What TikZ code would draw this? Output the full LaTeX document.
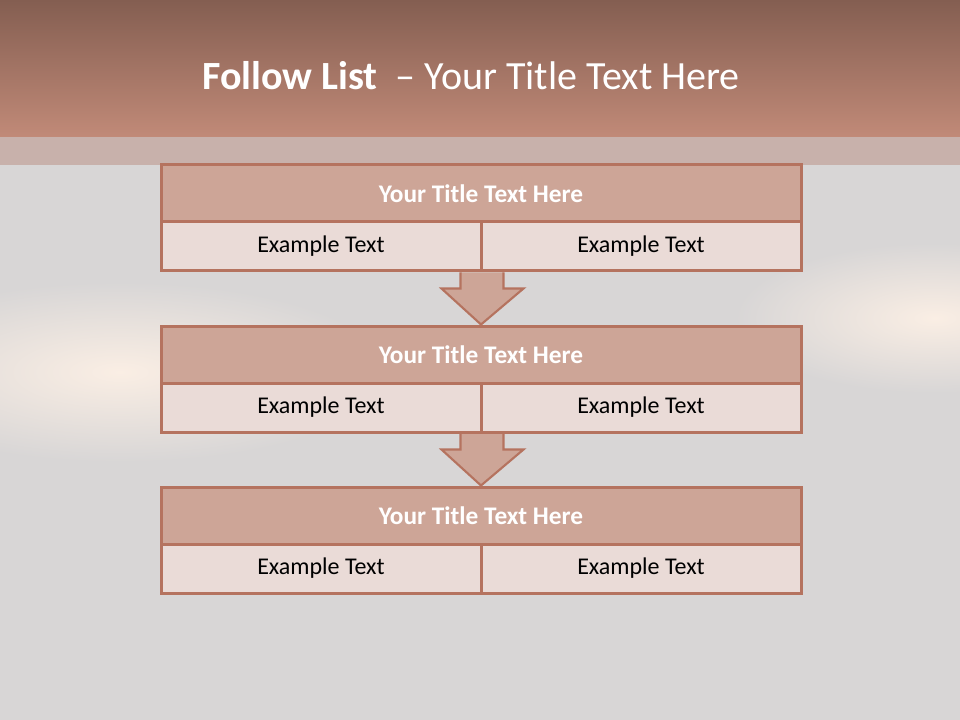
\documentclass[tikz,border=0pt]{standalone}
\usepackage{fontspec}
\setmainfont{Carlito}
\usetikzlibrary{calc,backgrounds}
\definecolor{followBarTop}{HTML}{845E51}
\definecolor{followBarLow}{HTML}{C18A78}
\definecolor{followBand}{HTML}{C8B1AB}
\definecolor{followBg}{HTML}{D8D6D6}
\definecolor{followGlow}{HTML}{FAEEE4}
\definecolor{followHead}{HTML}{CDA597}
\definecolor{followCell}{HTML}{EADBD7}
\definecolor{followEdge}{HTML}{B5735F}

\begin{document}
\begin{tikzpicture}[x=0.75pt,y=-0.75pt,
    headbox/.style={draw=followEdge,fill=followHead,line width=2.25pt,inner sep=0pt,
      minimum width=480pt,minimum height=42.75pt,text=white,
      font=\fontsize{19}{23}\selectfont\bfseries},
    cellbox/.style={draw=followEdge,fill=followCell,line width=2.25pt,inner sep=0pt,
      minimum width=240pt,minimum height=36.75pt,
      font=\fontsize{18}{22}\selectfont},
    downarrow/.style={draw=followEdge,fill=followHead,line width=1.6pt,line join=miter}]
  \useasboundingbox (0,0) rectangle (960,720);
  \begin{scope}[on background layer]
    \fill[followBg] (0,0) rectangle (960,720);
    \shade[inner color=followGlow,outer color=followBg] (120,372) ellipse (270 and 90);
    \shade[inner color=followGlow,outer color=followBg] (935,318) ellipse (200 and 75);
    \shade[top color=followBarTop,bottom color=followBarLow] (0,0) rectangle (960,137);
    \fill[followBand] (0,137) rectangle (960,165);
  \end{scope}
  \node[text=white,font=\fontsize{30}{36}\selectfont] (title) at (471,76)
    {\textbf{Follow List}\ \ – Your Title Text Here};
  % three blocks, title row over two cells
  \foreach \i/\y in {1/165,2/326,3/487} {
    \node[headbox] (t\i) at (481,\y+28.5) {Your Title Text Here};
    \node[cellbox] (l\i) at (321,\y+81.5) {Example Text};
    \node[cellbox] (r\i) at (641,\y+81.5) {Example Text};
  }
  % block arrows under the boxes
  \begin{scope}[on background layer]
    \foreach \i/\j in {1/2,2/3}
      \draw[downarrow] ($(l\i.south east)+(-22,0)$) -- ($(l\i.south east)+(-22,16)$)
        -- ($(l\i.south east)+(-41,16)$) -- (t\j.north)
        -- ($(l\i.south east)+(41,16)$) -- ($(l\i.south east)+(21,16)$)
        -- ($(l\i.south east)+(21,0)$);
  \end{scope}
\end{tikzpicture}
\end{document}
